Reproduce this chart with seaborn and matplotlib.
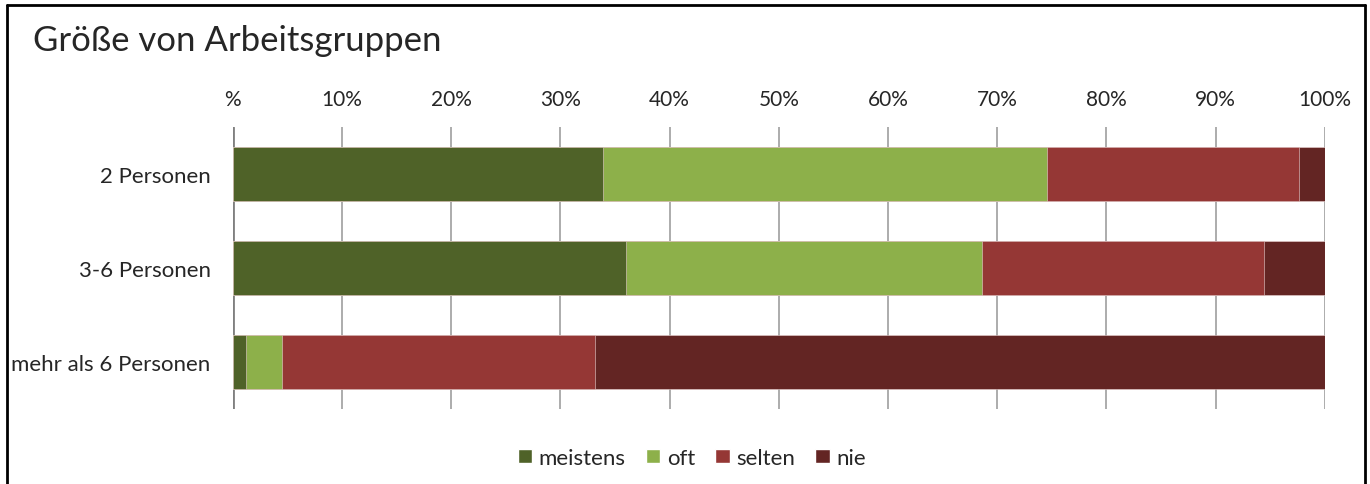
import numpy as np
import pandas as pd
import matplotlib
matplotlib.use('Agg')
import matplotlib.pyplot as plt
import seaborn as sns
from matplotlib.patches import Patch
from matplotlib.lines import Line2D

# ── data (percent per group) ──────────────────────────────
groups = ['2 Personen', '3-6 Personen', 'mehr als 6 Personen']
meistens = [33.9, 36.0, 1.2]
oft = [40.7, 32.6, 3.3]
selten = [23.0, 25.8, 28.7]
nie = [2.4, 5.6, 66.8]
series_names = ['meistens', 'oft', 'selten', 'nie']
colors = ['#4F6228', '#8DB04A', '#953735', '#632523']
tick_vals = list(range(0, 101, 10))
tick_labels = ['%'] + [f'{v}%' for v in tick_vals[1:]]

df = pd.DataFrame({'group': groups, 'meistens': meistens, 'oft': oft,
                   'selten': selten, 'nie': nie})
cum = df[series_names].cumsum(axis=1)

sns.set_style('white')
plt.rcParams['font.family'] = ['Lato', 'DejaVu Sans']

fig = plt.figure(figsize=(13.7, 4.85), dpi=100)
ax = fig.add_axes([0.170, 0.155, 0.797, 0.581])

# gridlines under the bars
for v in tick_vals:
    ax.axvline(v, color='#808080' if v == 0 else '#a6a6a6',
               lw=2.0 if v == 0 else 1.3, zorder=0)

# stacked bars: draw cumulative totals from back to front
for name, col in reversed(list(zip(series_names, colors))):
    sns.barplot(x=cum[name], y=df['group'], orient='h', color=col,
                width=0.57, ax=ax, zorder=2, saturation=1,
                edgecolor='#e8d0d0', linewidth=0.4)

ax.set_xlim(0, 100)
ax.set_ylim(2.5, -0.5)
ax.xaxis.tick_top()
ax.set_xticks(tick_vals)
ax.set_xticklabels(tick_labels, fontsize=15)
ax.tick_params(axis='x', length=0, pad=13)
ax.tick_params(axis='y', length=0, pad=16, labelsize=16)
ax.set_xlabel('')
ax.set_ylabel('')
for s in ax.spines.values():
    s.set_visible(False)

fig.text(0.024, 0.915, 'Größe von Arbeitsgruppen', fontsize=25, va='center')

handles = [Patch(facecolor=c, label=n) for n, c in zip(series_names, colors)]
fig.legend(handles=handles, loc='center', bbox_to_anchor=(0.505, 0.054),
           ncol=4, frameon=False, fontsize=16, handlelength=0.65,
           handleheight=0.65, handletextpad=0.3, columnspacing=0.9)

# outer chart frame
fig.add_artist(Line2D([0.0051, 0.0051], [0.0, 0.9866], color='black', lw=2))
fig.add_artist(Line2D([0.0051, 0.9964], [0.9866, 0.9866], color='black', lw=2))
fig.add_artist(Line2D([0.9964, 0.9964], [0.0, 0.9866], color='black', lw=2))

fig.savefig('out.png', dpi=100)
